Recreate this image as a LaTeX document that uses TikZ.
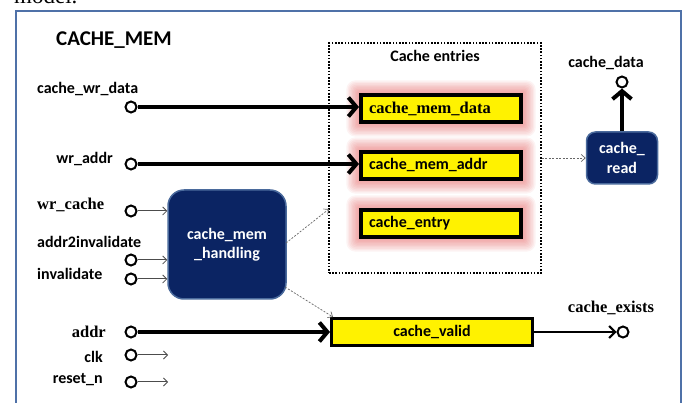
\documentclass[tikz,border=0pt]{standalone}
\usepackage{fontspec}
\setmainfont{Liberation Serif}
\newfontfamily\calfont{Carlito}
\usetikzlibrary{arrows.meta,backgrounds}
\definecolor{navy}{HTML}{0B2463}
\definecolor{navyedge}{HTML}{4A6A9C}
\definecolor{framecol}{HTML}{4F71A8}
\definecolor{glowcol}{HTML}{E85A5A}
\tikzset{
  port/.style={circle,draw=black,line width=2pt,fill=white,minimum size=11pt,inner sep=0pt},
  sanslbl/.style={font=\calfont\bfseries\fontsize{16}{18}\selectfont,inner sep=0pt},
  seriflbl/.style={font=\bfseries\fontsize{16.5}{18}\selectfont,inner sep=0pt},
  entrybox/.style={draw=black,line width=4pt,fill=yellow,minimum width=160pt,minimum height=27pt,
    inner xsep=8pt,inner ysep=0pt,text width=144pt,align=left},
  procbox/.style={draw=navyedge,line width=1.5pt,fill=navy,text=white,align=center,
    font=\calfont\bfseries\fontsize{16}{19.5}\selectfont,inner sep=0pt},
  bus/.style={line width=4pt,-{Straight Barb[length=8pt,width=19pt]}},
  wire/.style={line width=1pt,draw=black!70,-{Straight Barb[length=4pt,width=8pt,line width=0.8pt]}},
  link/.style={line width=0.7pt,draw=black!60,dash pattern=on 2pt off 1.5pt,
    -{Straight Barb[length=4pt,width=7pt,line width=0.7pt]}},
}
\begin{document}
\begin{tikzpicture}[x=1pt,y=-1pt]
\useasboundingbox (0,0) rectangle (686,403);

% running text above the figure and the module frame
\node[anchor=base west,inner sep=0pt,font=\fontsize{23}{24}\selectfont] (caption) at (14,4) {model.};
\draw[framecol,line width=2pt] (15.5,11) rectangle (680.5,420);
\node[anchor=base west,inner sep=0pt,font=\calfont\bfseries\fontsize{21}{24}\selectfont] (title) at (56,46) {CACHE\_MEM};

% cache entries group
\node[draw=black,line width=1.6pt,dash pattern=on 1.6pt off 1.6pt,minimum width=212pt,minimum height=230pt,inner sep=0pt] (entries) at (435,158) {};
\node[sanslbl,anchor=base] (entlbl) at (435,62) {Cache entries};

\node[entrybox,font=\bfseries\fontsize{16.5}{18}\selectfont] (cmd) at (441,108.5) {cache\_mem\_data};
\node[entrybox,font=\calfont\bfseries\fontsize{16}{18}\selectfont] (cma) at (441,165.5) {cache\_mem\_addr};
\node[entrybox,font=\calfont\bfseries\fontsize{16}{18}\selectfont] (cen) at (441,223.5) {cache\_entry};

% soft red glow behind the entry registers
\begin{scope}[on background layer]
  \fill[white] (0,0) rectangle (686,403);
  \foreach \bx in {cmd,cma,cen}{
    \foreach \g in {1,...,9}{
      \fill[glowcol,opacity=0.07,rounded corners=\g pt]
        ([xshift=-\g*1.4pt,yshift=\g*1.4pt]\bx.north west) rectangle
        ([xshift=\g*1.4pt,yshift=-\g*1.4pt]\bx.south east);
    }
  }
\end{scope}

\node[draw=black,line width=3pt,fill=yellow,minimum width=201pt,minimum height=27pt,inner sep=0pt,
  font=\calfont\bfseries\fontsize{16}{18}\selectfont] (cv) at (432,332) {cache\_valid};

% processing blocks
\node[procbox,rounded corners=16pt,minimum width=118pt,minimum height=109pt] (hdl) at (227,244.5) {cache\_mem\\\_handling};
\node[procbox,rounded corners=9pt,minimum width=71pt,minimum height=52pt] (crd) at (622,158) {cache\_\\read};

% ports
\node[port] (pwd) at (131,107) {};
\node[port] (pwa) at (131,164) {};
\node[port] (pwc) at (131,211) {};
\node[port] (pa2i) at (131,260) {};
\node[port] (pinv) at (131,279) {};
\node[port] (paddr) at (131,332) {};
\node[port] (pclk) at (131,355) {};
\node[port] (prst) at (131,382) {};
\node[port] (pcd) at (622,82) {};
\node[port] (pce) at (623,332) {};

% port labels
\node[sanslbl,anchor=base west] (lwd) at (37,94) {cache\_wr\_data};
\node[sanslbl,anchor=base east] (lwa) at (113,164) {wr\_addr};
\node[seriflbl,anchor=base west] (lwc) at (37,210) {wr\_cache};
\node[sanslbl,anchor=base west] (la2i) at (37,248) {addr2invalidate};
\node[sanslbl,anchor=base west] (linv) at (37,280) {invalidate};
\node[seriflbl,anchor=base east] (laddr) at (106,338) {addr};
\node[sanslbl,anchor=base east] (lclk) at (103,363) {clk};
\node[sanslbl,anchor=base east] (lrst) at (103,384) {reset\_n};
\node[sanslbl,anchor=base] (lcd) at (606,68) {cache\_data};
\node[seriflbl,anchor=base] (lce) at (611,313) {cache\_exists};

% free ends of the clock and reset wires
\coordinate (eclk) at (168,355);
\coordinate (erst) at (168,382);

% connections
\draw[bus] (pwd) -- (pwd -| cmd.west);
\draw[bus] (pwa) -- (pwa -| cma.west);
\draw[bus] (paddr) -- (paddr -| cv.west);
\draw[bus] (crd.north) -- (pcd);
\draw[line width=2pt,-{Straight Barb[length=6pt,width=12pt]}] (cv.east) -- (pce);

\draw[wire] (pwc) -- (pwc -| hdl.west);
\draw[wire] (pa2i) -- (pa2i -| hdl.west);
\draw[wire] (pinv) -- (pinv -| hdl.west);
\draw[wire] (pclk) -- (eclk);
\draw[wire] (prst) -- (erst);

\coordinate (hdlup) at (286,243);
\coordinate (hdldn) at (285,287);
\coordinate (entin) at (329,209);
\draw[link] (hdlup) -- (entin);
\draw[link] (hdldn) -- ([xshift=3pt]cv.north west);
\draw[link] (entries.east |- crd.west) -- (crd.west);
\end{tikzpicture}
\end{document}
